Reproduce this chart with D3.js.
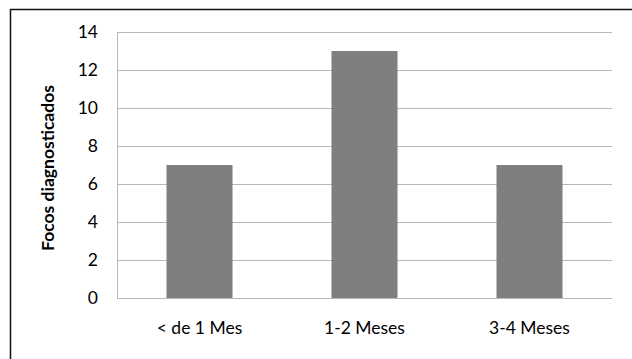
<!DOCTYPE html>
<html><head><meta charset="utf-8">
<script src="https://cdn.jsdelivr.net/npm/d3@7"></script>
<style>body{margin:0;background:#fff}svg{display:block}</style>
</head><body>
<script>
const categories = ["< de 1 Mes", "1-2 Meses", "3-4 Meses"];
const values = [7, 13, 7];
const yTicks = [0, 2, 4, 6, 8, 10, 12, 14];
const yTitle = "Focos diagnosticados";

const W = 632, H = 359;
const m = {left: 117, right: 20, top: 32, bottom: 61};
const svg = d3.select("body").append("svg").attr("width", W).attr("height", H);
svg.append("rect").attr("x", 10.5).attr("y", 9.5).attr("width", 640).attr("height", 360)
  .attr("fill", "#fff").attr("stroke", "#111").attr("stroke-width", 1.5);

const x = d3.scaleBand().domain(categories).range([m.left, W - m.right]).paddingInner(0.6).paddingOuter(0.3);
const y = d3.scaleLinear().domain([0, 14]).range([H - m.bottom, m.top]);
const font = "Lato, 'Open Sans', sans-serif";

const g = svg.append("g");
g.selectAll("line.grid").data(yTicks).join("line").attr("class", "grid")
  .attr("x1", m.left).attr("x2", W - m.right)
  .attr("y1", d => Math.round(y(d)) + 0.5).attr("y2", d => Math.round(y(d)) + 0.5)
  .attr("stroke", "#b8b8b8").attr("stroke-width", 1);
g.append("line").attr("x1", m.left + 0.5).attr("x2", m.left + 0.5)
  .attr("y1", y(14)).attr("y2", y(0)).attr("stroke", "#b8b8b8");

g.selectAll("rect.bar").data(values).join("rect").attr("class", "bar")
  .attr("x", (d, i) => x(categories[i])).attr("width", x.bandwidth())
  .attr("y", d => y(d)).attr("height", d => y(0) - y(d))
  .attr("fill", "#7f7f7f");

const yAxis = d3.axisLeft(y).tickValues(yTicks).tickSize(0).tickPadding(19);
const ya = svg.append("g").attr("transform", `translate(${m.left},0)`).call(yAxis);
ya.select(".domain").remove();
ya.selectAll("text").attr("font-family", font).attr("font-size", 17.5).attr("fill", "#000");

const xAxis = d3.axisBottom(x).tickSize(0).tickPadding(24);
const xa = svg.append("g").attr("transform", `translate(0,${y(0)})`).call(xAxis);
xa.select(".domain").remove();
xa.selectAll("text").attr("font-family", font).attr("font-size", 17.5).attr("fill", "#000");

svg.append("text").attr("transform", `translate(54,${168}) rotate(-90)`)
  .attr("text-anchor", "middle").attr("font-family", font).attr("font-weight", "bold")
  .attr("font-size", 17.5).attr("fill", "#000").text(yTitle);
</script>
</body></html>
